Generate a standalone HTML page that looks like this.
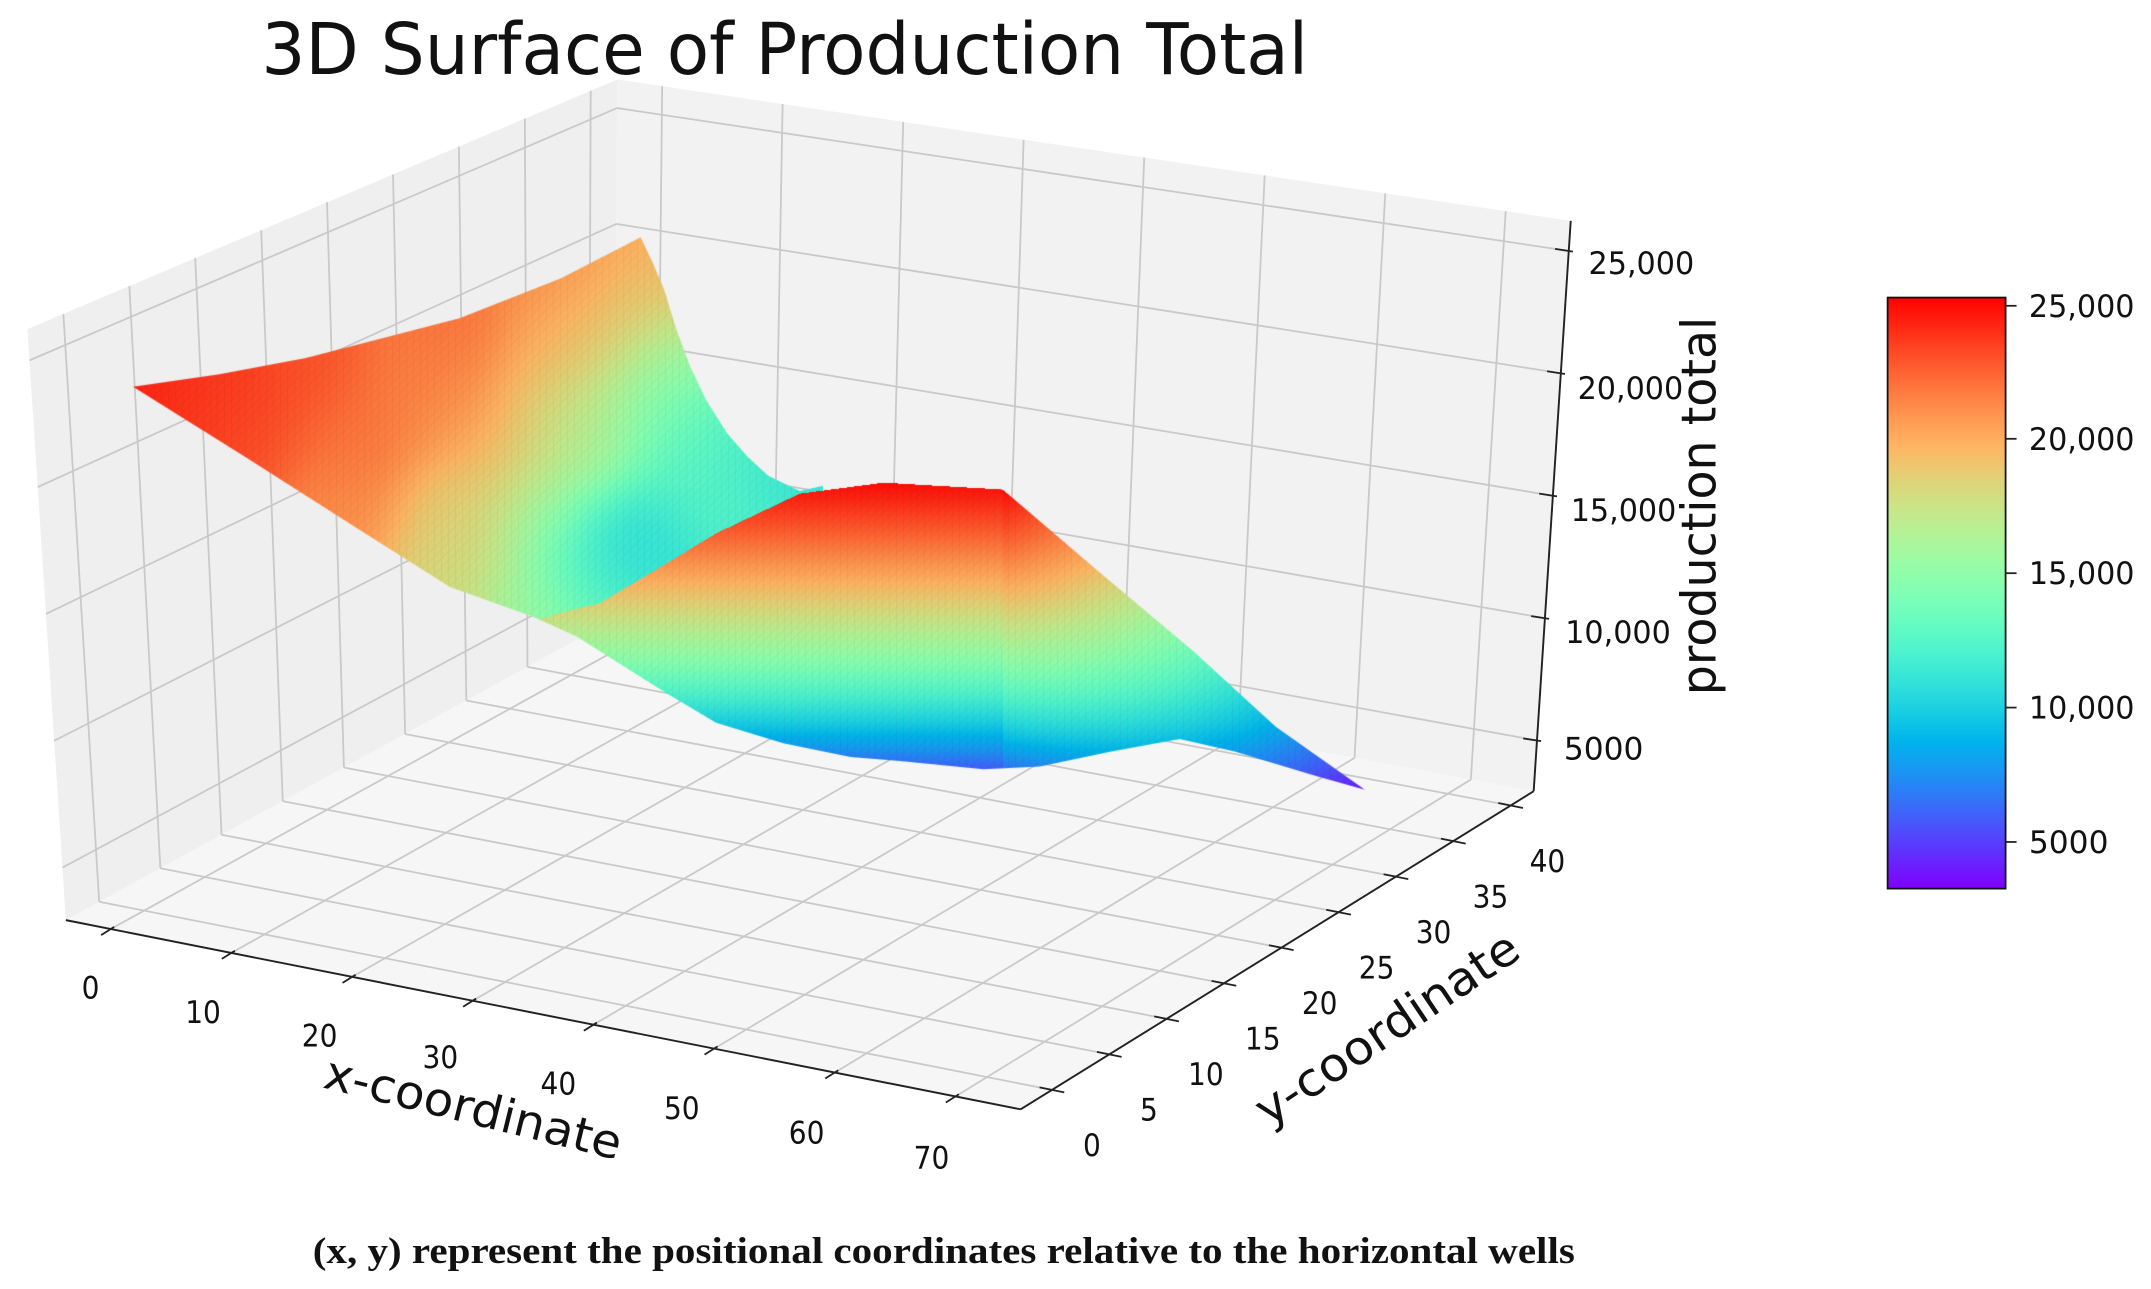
<!DOCTYPE html>
<html><head><meta charset="utf-8">
<style>
html,body{margin:0;padding:0;background:#fff;}
#wrap{position:relative;width:2151px;height:1289px;overflow:hidden;background:#fff;}
#wrap svg,#wrap canvas{position:absolute;left:0;top:0;width:2151px;height:1289px;}
text{font-family:"DejaVu Sans","Liberation Sans",sans-serif;fill:#111;}
</style></head>
<body>
<div id="wrap">
<svg id="bg" viewBox="0 0 1568 940" preserveAspectRatio="none"></svg>
<canvas id="cv" width="2151" height="1289"></canvas>
<svg id="fg" viewBox="0 0 1568 940" preserveAspectRatio="none">
<defs><linearGradient id="cbg" x1="0" y1="1" x2="0" y2="0"></linearGradient></defs>
<text x="572" y="54" font-size="52" text-anchor="middle" textLength="763" lengthAdjust="spacingAndGlyphs">3D Surface of Production Total</text>
<text x="688" y="921" font-size="27" font-weight="bold" text-anchor="middle" textLength="920" lengthAdjust="spacingAndGlyphs" style="font-family:'Liberation Serif',serif">(x, y) represent the positional coordinates relative to the horizontal wells</text>
</svg>
</div>
<script>
(function(){
var NS="http://www.w3.org/2000/svg";
var bg=document.getElementById('bg'), fg=document.getElementById('fg');
function el(p,tag,attrs,txt){var e=document.createElementNS(NS,tag);for(var k in attrs)e.setAttribute(k,attrs[k]);if(txt!=null)e.textContent=txt;p.appendChild(e);return e;}
var B00=[48,671],B10=[744,809],B11=[1118,577],B01=[447,452];
var T00=[20,240],T10=[715,343],T11=[1145,161],T01=[450,58];
function bil(a,b,c,d,u,v){return [a[0]*(1-u)*(1-v)+b[0]*u*(1-v)+c[0]*u*v+d[0]*(1-u)*v, a[1]*(1-u)*(1-v)+b[1]*u*(1-v)+c[1]*u*v+d[1]*(1-u)*v];}
function P(u,v,w){var b=bil(B00,B10,B11,B01,u,v),t=bil(T00,T10,T11,T01,u,v);return [b[0]+w*(t[0]-b[0]),b[1]+w*(t[1]-b[1])];}
function poly(p,pts,fill){el(p,'polygon',{points:pts.map(function(q){return q[0].toFixed(1)+','+q[1].toFixed(1)}).join(' '),fill:fill});}
function line(p,a,b,col,w){el(p,'line',{x1:a[0].toFixed(1),y1:a[1].toFixed(1),x2:b[0].toFixed(1),y2:b[1].toFixed(1),stroke:col,'stroke-width':w});}
poly(bg,[P(0,0,0),P(0,1,0),P(0,1,1),P(0,0,1)],'#efefef');
poly(bg,[P(0,1,0),P(1,1,0),P(1,1,1),P(0,1,1)],'#f2f2f2');
poly(bg,[P(0,0,0),P(1,0,0),P(1,1,0),P(0,1,0)],'#f6f6f6');
var gc='#c9c9c9',gw=1.3;
var us=[],vs=[],ws=[];
for(var x=0;x<=70;x+=10)us.push(0.047+x*0.01264);
for(var y=0;y<=40;y+=5)vs.push(0.061+y*0.02235);
for(var z=5000;z<=25000;z+=5000)ws.push((z-2930)/23300);
us.forEach(function(u){line(bg,P(u,0,0),P(u,1,0),gc,gw);line(bg,P(u,1,0),P(u,1,1),gc,gw);});
vs.forEach(function(v){line(bg,P(0,v,0),P(1,v,0),gc,gw);line(bg,P(0,v,0),P(0,v,1),gc,gw);});
ws.forEach(function(w){line(bg,P(0,1,w),P(1,1,w),gc,gw);line(bg,P(0,0,w),P(0,1,w),gc,gw);});
var ac='#222';
line(fg,P(0,0,0),P(1,0,0),ac,1.4);
line(fg,P(1,0,0),P(1,1,0),ac,1.4);
line(fg,P(1,1,0),P(1,1,1),ac,1.4);
us.forEach(function(u){var a=P(u,0,0);line(fg,[a[0]+2.5,a[1]-1.6],[a[0]-7,a[1]+4.4],ac,1.3);});
vs.forEach(function(v){var a=P(1,v,0);line(fg,[a[0]-9,a[1]-1.8],[a[0]+9,a[1]+1.8],ac,1.3);});
ws.forEach(function(w){var a=P(1,1,w);line(fg,[a[0]-10,a[1]-1.5],[a[0]+3,a[1]+0.5],ac,1.3);});
function T(x,y,s,fs,len,extra){var at={x:x,y:y,'font-size':fs};if(len){at.textLength=len;at.lengthAdjust='spacingAndGlyphs';}for(var k in extra)at[k]=extra[k];return el(fg,'text',at,s);}
var xl=[[66,720],[148,738],[233,755],[321,771],[407,790],[497,808],[588,826],[679,844]];
xl.forEach(function(p,i){var s=String(i*10);T(p[0],p[1]+8,s,23,s.length==1?13:26,{'text-anchor':'middle'});});
for(var i=0;i<=8;i++){var s=String(i*5);T(796+i*41.5,835-i*25.9+8,s,23,s.length==1?13:26,{'text-anchor':'middle'});}
var zl=[['25,000',1158,200],['20,000',1150,291],['15,000',1145,380],['10,000',1141,469],['5000',1140,554]];
zl.forEach(function(a){T(a[1],a[2],a[0],23,a[0].length==6?77:58);});
T(345,808,'x-coordinate',34,222,{'text-anchor':'middle','dominant-baseline':'central',transform:'rotate(13.8 345 808)'});
T(1011,750,'y-coordinate',34,224,{'text-anchor':'middle','dominant-baseline':'central',transform:'rotate(-33.9 1011 750)'});
T(1239,369,'production total',35,276,{'text-anchor':'middle','dominant-baseline':'central',transform:'rotate(-90 1239 369)'});
function cm(t){t=Math.max(0,Math.min(1,t));var r=Math.abs(2*t-0.5),g=Math.sin(Math.PI*t),b=Math.cos(Math.PI*t/2);
 return [Math.round(Math.min(1,r)*255),Math.round(Math.max(0,g)*255),Math.round(Math.max(0,b)*255)];}
var VMIN=3.261,VMAX=25.307;
var grad=fg.querySelector('#cbg');
for(var k=0;k<=20;k++){var c=cm(k/20);el(grad,'stop',{offset:(k/20*100)+'%','stop-color':'rgb('+c.join(',')+')'});}
el(fg,'rect',{x:1376,y:217,width:86,height:431,fill:'url(#cbg)',stroke:'#111','stroke-width':1.3});
var cbt=[['25,000',223],['20,000',320],['15,000',418],['10,000',516],['5000',614]];
cbt.forEach(function(a){line(fg,[1462,a[1]],[1470,a[1]],ac,1.3);T(1479,a[1]+8,a[0],23,a[0].length==6?77:58);});
var outline=[[97,282],[160,273],[223,261],[335,232],[409,203],[467,173],[476,192],[484,211],[493,240],[503,267],[515,292],[530,316],[545,333],[560,347],[583,358],[610,352],[644,351],[690,352],[731,357],[800,416],[870,475],[930,530],[995,576],[960,566],[900,548],[860,539],[810,548],[758,559],[717,561],[656,555],[620,552],[571,542],[522,527],[485,505],[450,483],[420,464],[389,450],[328,428],[260,385],[180,334],[97,282]];
var hedge=[[380,456],[408,447],[437,440],[474,418],[522,389],[583,360],[644,352],[731,357],[995,576]];
function interp(pl,X){for(var i=0;i<pl.length-1;i++){if(X>=pl[i][0]&&X<=pl[i+1][0]){var f=(X-pl[i][0])/(pl[i+1][0]-pl[i][0]);return pl[i][1]+f*(pl[i+1][1]-pl[i][1]);}}return null;}
var cps=[[97,282,24.5],[160,275,23.8],[223,261,23],[335,232,22],[409,203,21.2],[467,175,20.2],[484,211,18.8],[503,267,15.5],[530,316,13],[560,345,11],
[180,320,23],[260,330,22],[250,378,21],[328,428,18],[389,450,15.5],[330,300,21],[400,260,20],[440,240,18.5],[328,377,18.5],[401,377,15.5],[430,330,16.5],[470,300,14.5],[500,330,12.5],[464,408,9.3],[445,395,11],[485,400,10.3],[470,430,12.8],[437,440,14],[520,360,14.2],[505,380,12],[535,375,12.5],[550,355,11.5],[571,348,11],[420,300,17.5],[370,330,19.2],[140,300,23.8],[300,270,21.8]];
function sheetVal(X,Y){var sw=0,sv=0;for(var i=0;i<cps.length;i++){var dx=X-cps[i][0],dy=Y-cps[i][1],d2=dx*dx+dy*dy;var w=Math.exp(-d2/(2*30*30))+1e-9/(d2+1);sw+=w;sv+=w*cps[i][2];}return sv/sw;}
function humpVal(X,Y){var d,pen=0;if(X<=731){d=Y-352;}else{d=Y-interp(hedge,X);pen=0.08*(X-731);}if(d<0)d=0;return 25-0.06*d-0.00015*d*d-pen;}
var cv=document.getElementById('cv'),ctx=cv.getContext('2d');
var W=2151,H=1289,sx=W/1568,sy=H/940;
var off=document.createElement('canvas');off.width=W;off.height=H;var octx=off.getContext('2d');
var x0=Math.floor(90*sx),x1=Math.ceil(1000*sx),y0=Math.floor(165*sy),y1=Math.ceil(590*sy);
var img=octx.createImageData(x1-x0,y1-y0),dt=img.data;
for(var py=y0;py<y1;py++){var Y=(py+0.5)/sy;for(var px=x0;px<x1;px++){var X=(px+0.5)/sx;
 var ht=(X>=380&&X<=995)?interp(hedge,X):null;var v;
 if(ht!==null&&Y>ht)v=humpVal(X,Y);else{ if(X>600)continue; v=sheetVal(X,Y);}
 var c=cm((v-VMIN)/(VMAX-VMIN));
 var m=((px%7==0)||((px+py)%9==0))?0.94:0.985;
 var o=((py-y0)*(x1-x0)+(px-x0))*4;dt[o]=c[0]*m;dt[o+1]=c[1]*m;dt[o+2]=c[2]*m;dt[o+3]=255;}}
octx.putImageData(img,x0,y0);
ctx.save();ctx.setTransform(sx,0,0,sy,0,0);ctx.beginPath();
outline.forEach(function(p,i){if(i==0)ctx.moveTo(p[0],p[1]);else ctx.lineTo(p[0],p[1]);});
ctx.closePath();ctx.clip();ctx.setTransform(1,0,0,1,0,0);ctx.drawImage(off,0,0);ctx.restore();
})();
</script>
</body></html>
